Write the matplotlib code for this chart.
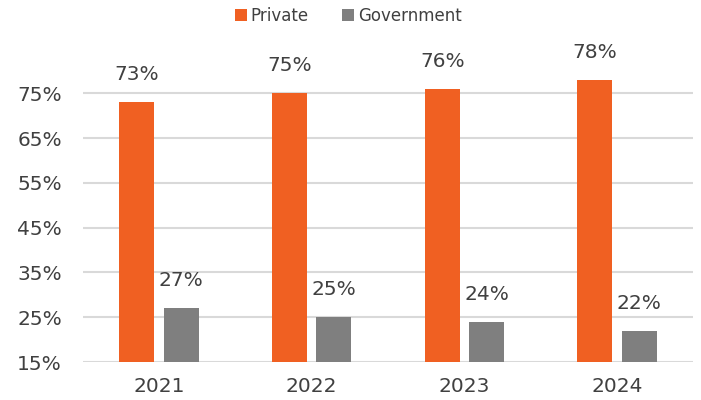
import matplotlib
matplotlib.use("Agg")
import matplotlib.pyplot as plt
import numpy as np

years = ["2021", "2022", "2023", "2024"]
private = [73, 75, 76, 78]
government = [27, 25, 24, 22]
yticks = [15, 25, 35, 45, 55, 65, 75]

plt.rcParams['font.family'] = ['DejaVu Sans']
txt = '#404040'

fig = plt.figure(figsize=(7.01, 4.00), dpi=100)
ax = fig.add_axes([0.118, 0.095, 0.871, 0.7275])

x = np.arange(len(years))
w = 0.23
off = 0.145
b1 = ax.bar(x - off, np.array(private) - 15, w, bottom=15, color='#F06022', label='Private', zorder=3)
b2 = ax.bar(x + off, np.array(government) - 15, w, bottom=15, color='#7F7F7F', label='Government', zorder=3)

for xi, v in zip(x, private):
    ax.text(xi - off, v + 4, f"{v}%", ha='center', va='bottom', fontsize=14.5, color=txt, clip_on=False)
for xi, v in zip(x, government):
    ax.text(xi + off, v + 4, f"{v}%", ha='center', va='bottom', fontsize=14.5, color=txt, clip_on=False)

ax.set_xlim(-0.5, 3.5)
ax.set_ylim(15, 80)
ax.set_yticks(yticks)
ax.set_yticklabels([f"{t}%" for t in yticks], fontsize=14.5, color=txt)
ax.set_xticks(x)
ax.set_xticklabels(years, fontsize=14.5, color=txt)
ax.tick_params(length=0)
ax.tick_params(axis='x', pad=11)
ax.tick_params(axis='y', pad=15)
ax.yaxis.grid(True, color='#D9D9D9', linewidth=1.5, zorder=0)
for s in ax.spines.values():
    s.set_visible(False)

fig.legend(handles=[b1, b2], labels=['Private', 'Government'], loc='upper center',
           bbox_to_anchor=(0.497, 1.02), ncol=2, frameon=False, fontsize=12,
           handlelength=0.7, handleheight=0.7, handletextpad=0.25, columnspacing=2.0,
           labelcolor=txt)

fig.savefig("out.png", dpi=100)
